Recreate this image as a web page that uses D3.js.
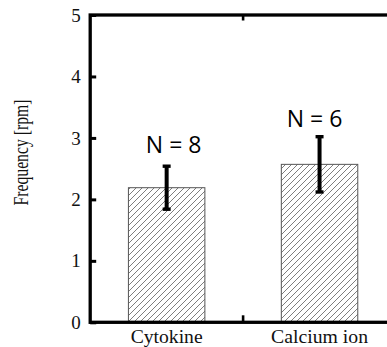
<!DOCTYPE html>
<html>
<head>
<meta charset="utf-8">
<script src="https://cdn.jsdelivr.net/npm/d3@7"></script>
<style>
  html, body { margin: 0; padding: 0; background: #fff; }
  svg { display: block; }
  .serif { font-family: "Liberation Serif", "Times New Roman", serif; }
</style>
</head>
<body>
<svg id="chart" width="387" height="347"></svg>
<script>
// Mean frequency per stimulus with standard-deviation error bars
const categories = ["Cytokine", "Calcium ion"];
const means = [2.19, 2.57];
const errors = [0.35, 0.45];
const sampleLabels = ["N = 8", "N = 6"];
const yTicks = [0, 1, 2, 3, 4, 5];

const svg = d3.select("#chart");
const plotLeft = 90.2, plotRight = 396, plotTop = 15, plotBottom = 322.3;

const y = d3.scaleLinear().domain([0, 5]).range([plotBottom, plotTop]);
const xGroup = d3.scaleBand().domain(categories).range([plotLeft, plotRight]);
const xBar = d3.scaleBand().domain(categories).range([plotLeft, plotRight])
  .paddingInner(0.5).paddingOuter(0.25);
const cx = d => xBar(d) + xBar.bandwidth() / 2;

// diagonal hatch fill
const defs = svg.append("defs");
const pat = defs.append("pattern")
  .attr("id", "hatch")
  .attr("patternUnits", "userSpaceOnUse")
  .attr("width", 6).attr("height", 6);
pat.append("rect").attr("width", 6).attr("height", 6).attr("fill", "#fff");
pat.append("path")
  .attr("d", "M-1,1 l2,-2 M0,6 l6,-6 M5,7 l2,-2")
  .attr("stroke", "#6f6f6f").attr("stroke-width", 0.9);

// bars
svg.append("g").selectAll("rect")
  .data(categories)
  .join("rect")
  .attr("x", d => xBar(d))
  .attr("width", xBar.bandwidth())
  .attr("y", (d, i) => y(means[i]))
  .attr("height", (d, i) => y(0) - y(means[i]))
  .attr("fill", "url(#hatch)")
  .attr("stroke", "#555")
  .attr("stroke-width", 1);

// error bars
const eb = svg.append("g").selectAll("g")
  .data(categories)
  .join("g");
eb.append("line")
  .attr("x1", cx).attr("x2", cx)
  .attr("y1", (d, i) => y(means[i] - errors[i]))
  .attr("y2", (d, i) => y(means[i] + errors[i]))
  .attr("stroke", "#000").attr("stroke-width", 4);
[1, -1].forEach(s => {
  eb.append("line")
    .attr("x1", d => cx(d) - 4)
    .attr("x2", d => cx(d) + 4)
    .attr("y1", (d, i) => y(means[i] + s * errors[i]))
    .attr("y2", (d, i) => y(means[i] + s * errors[i]))
    .attr("stroke", "#000").attr("stroke-width", 3.4);
});

// sample-size annotations
const labelDx = [7, -5];
const labelDy = [-13, -9.5];
svg.append("g").selectAll("text")
  .data(categories)
  .join("text")
  .attr("x", (d, i) => cx(d) + labelDx[i])
  .attr("y", (d, i) => y(means[i] + errors[i]) + labelDy[i])
  .attr("text-anchor", "middle")
  .attr("font-family", "'Open Sans', sans-serif")
  .attr("font-size", 23)
  .attr("fill", "#000")
  .text((d, i) => sampleLabels[i]);

// frame
svg.append("rect")
  .attr("x", plotLeft).attr("y", plotTop)
  .attr("width", plotRight + 20 - plotLeft).attr("height", plotBottom - plotTop)
  .attr("fill", "none")
  .attr("stroke", "#000").attr("stroke-width", 3.3);

// y axis ticks and labels
const yAxis = d3.axisLeft(y).tickValues(yTicks).tickFormat(d3.format("d"))
  .tickSize(-6).tickPadding(9.5);
const gy = svg.append("g").attr("transform", `translate(${plotLeft},0)`).call(yAxis)
  .attr("font-family", null).attr("font-size", null);
gy.select(".domain").remove();
gy.selectAll(".tick line").attr("stroke", "#000").attr("stroke-width", 3);
gy.selectAll(".tick text")
  .attr("class", "serif")
  .attr("font-size", 19)
  .attr("fill", "#111");

// x ticks between categories, on top and bottom edges
const boundary = xGroup(categories[1]);
svg.append("line")
  .attr("x1", boundary).attr("x2", boundary)
  .attr("y1", plotTop).attr("y2", plotTop + 5.5)
  .attr("stroke", "#000").attr("stroke-width", 2.6);
svg.append("line")
  .attr("x1", boundary).attr("x2", boundary)
  .attr("y1", plotBottom).attr("y2", plotBottom - 7)
  .attr("stroke", "#000").attr("stroke-width", 2.6);

// category labels
const catWidths = [72, 97];
svg.append("g").selectAll("text")
  .data(categories)
  .join("text")
  .attr("class", "serif")
  .attr("x", cx)
  .attr("y", 343)
  .attr("text-anchor", "middle")
  .attr("font-size", 18)
  .attr("fill", "#111")
  .attr("textLength", (d, i) => catWidths[i])
  .attr("lengthAdjust", "spacingAndGlyphs")
  .text(d => d);

// y axis title
svg.append("text")
  .attr("class", "serif")
  .attr("transform", "translate(28,152.5) rotate(-90)")
  .attr("text-anchor", "middle")
  .attr("font-size", 20)
  .attr("fill", "#111")
  .attr("textLength", 106)
  .attr("lengthAdjust", "spacingAndGlyphs")
  .text("Frequency [rpm]");
</script>
</body>
</html>
